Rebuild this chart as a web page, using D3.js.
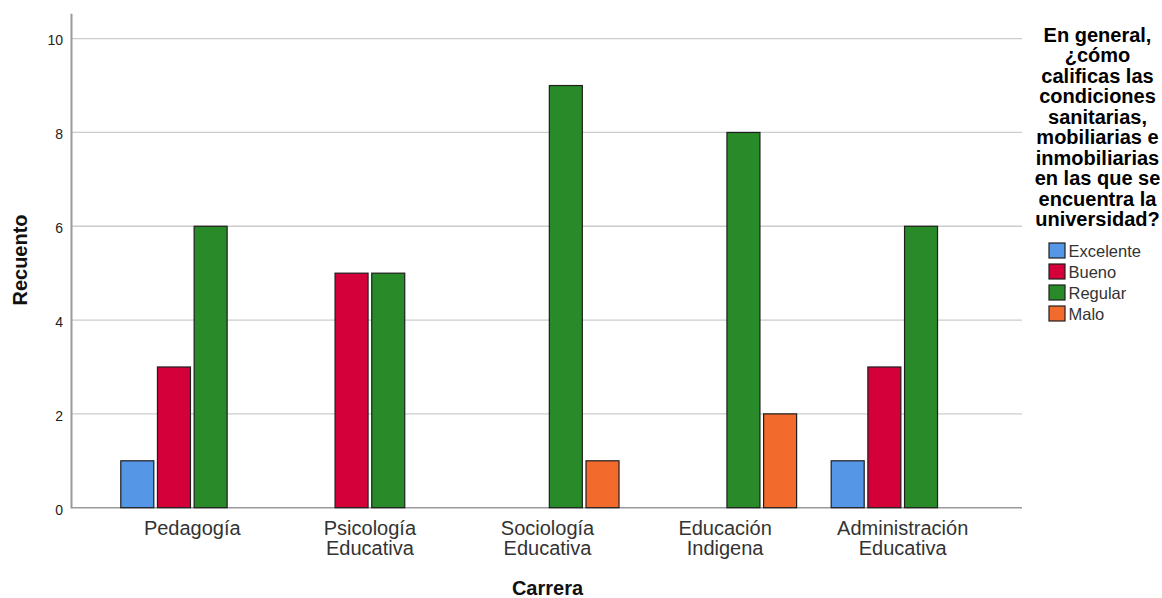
<!DOCTYPE html>
<html>
<head>
<meta charset="utf-8">
<script src="https://cdn.jsdelivr.net/npm/d3@7"></script>
<style>
  html, body { margin: 0; padding: 0; background: #fff; }
  svg { display: block; font-family: "Liberation Sans", Arial, sans-serif; }
</style>
</head>
<body>
<svg id="chart" width="1162" height="598"></svg>
<script>
const categories = ["Pedagogía", "Psicología Educativa", "Sociología Educativa", "Educación Indigena", "Administración Educativa"];
const categoryLines = [["Pedagogía"], ["Psicología", "Educativa"], ["Sociología", "Educativa"], ["Educación", "Indigena"], ["Administración", "Educativa"]];
const seriesNames = ["Excelente", "Bueno", "Regular", "Malo"];
const excelente = [1, 0, 0, 0, 1];
const bueno = [3, 5, 0, 0, 3];
const regular = [6, 5, 9, 8, 6];
const malo = [0, 0, 1, 2, 0];
const yTicks = [0, 2, 4, 6, 8, 10];
const legendTitleLines = ["En general,", "¿cómo", "calificas las", "condiciones", "sanitarias,", "mobiliarias e", "inmobiliarias", "en las que se", "encuentra la", "universidad?"];
const colors = ["#5596E6", "#D3003A", "#288A29", "#F26A2C"];

const seriesValues = [excelente, bueno, regular, malo];

const svg = d3.select("#chart");

const plotLeft = 71, plotRight = 1022, plotTop = 13.3, plotBottom = 507.7;

const y = d3.scaleLinear().domain([0, 10.54]).range([plotBottom, plotTop]);
const x0 = d3.scaleBand().domain(categories).range([103.5, 991.5]).paddingInner(0.174).paddingOuter(0.087);
const x1 = d3.scaleBand().domain(seriesNames).range([0, x0.bandwidth()]).paddingInner(0.1).paddingOuter(0.05);

// gridlines
svg.append("g").selectAll("line").data(yTicks.filter(t => t > 0)).join("line")
  .attr("x1", plotLeft).attr("x2", plotRight)
  .attr("y1", d => y(d)).attr("y2", d => y(d))
  .attr("stroke", "#cccccc").attr("stroke-width", 1.3);

// baseline
svg.append("line").attr("x1", plotLeft).attr("x2", plotRight)
  .attr("y1", y(0)).attr("y2", y(0)).attr("stroke", "#9a9a9a").attr("stroke-width", 1.5);

// y axis
const yAxis = d3.axisLeft(y).tickValues(yTicks).tickSize(0).tickPadding(8);
const ya = svg.append("g").attr("transform", `translate(${plotLeft},0)`).call(yAxis);
ya.select(".domain").attr("stroke", "#9a9a9a").attr("stroke-width", 2);
ya.selectAll("text").attr("font-size", 14).attr("fill", "#222").attr("font-family", "Liberation Sans, Arial, sans-serif").attr("dy", "0.45em");

// bars
const barData = [];
categories.forEach((c, i) => {
  seriesNames.forEach((s, j) => {
    const v = seriesValues[j][i];
    if (v > 0) barData.push({ c, s, v, color: colors[j] });
  });
});
svg.append("g").selectAll("rect").data(barData).join("rect")
  .attr("x", d => x0(d.c) + x1(d.s))
  .attr("y", d => y(d.v))
  .attr("width", x1.bandwidth())
  .attr("height", d => y(0) - y(d.v))
  .attr("fill", d => d.color)
  .attr("stroke", "#1e1e1e").attr("stroke-width", 1.2);

// x category labels
const xl = svg.append("g").selectAll("text").data(categories).join("text")
  .attr("x", d => x0(d) + x0.bandwidth() / 2)
  .attr("y", 535)
  .attr("text-anchor", "middle")
  .attr("font-size", 20).attr("fill", "#333");
xl.each(function(d, i) {
  const t = d3.select(this);
  categoryLines[i].forEach((ln, k) => {
    t.append("tspan").attr("x", x0(d) + x0.bandwidth() / 2).attr("dy", k === 0 ? 0 : 20).text(ln);
  });
});

// axis titles
svg.append("text").attr("x", 547.5).attr("y", 595).attr("text-anchor", "middle")
  .attr("font-size", 20).attr("font-weight", "bold").attr("fill", "#111").text("Carrera");
svg.append("text").attr("transform", "translate(26.5,260) rotate(-90)").attr("text-anchor", "middle")
  .attr("font-size", 20).attr("font-weight", "bold").attr("fill", "#111").text("Recuento");

// legend title
svg.append("g").selectAll("text").data(legendTitleLines).join("text")
  .attr("x", 1097.5).attr("y", (d, i) => 41.7 + i * 20.5)
  .attr("text-anchor", "middle").attr("font-size", 20).attr("font-weight", "bold").attr("fill", "#000")
  .text(d => d);

// legend items
const lg = svg.append("g").selectAll("g").data(seriesNames).join("g")
  .attr("transform", (d, i) => `translate(1049,${243 + i * 21})`);
lg.append("rect").attr("width", 16).attr("height", 15)
  .attr("fill", (d, i) => colors[i]).attr("stroke", "#1e1e1e").attr("stroke-width", 1.2);
lg.append("text").attr("x", 19.5).attr("y", 13.5).attr("font-size", 16.5).attr("fill", "#333").text(d => d);
</script>
</body>
</html>
